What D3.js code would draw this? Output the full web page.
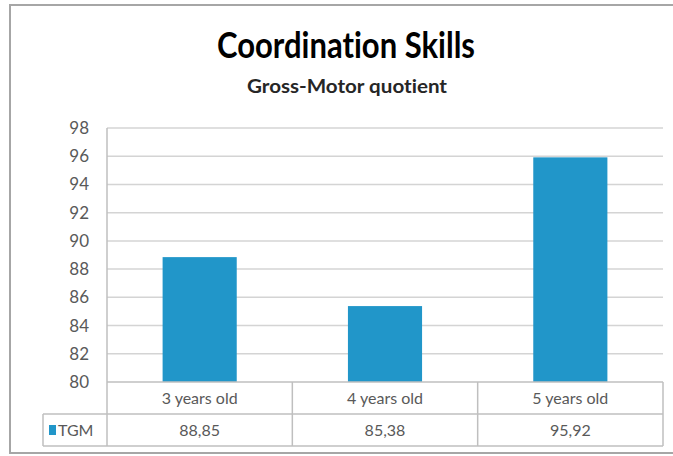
<!DOCTYPE html>
<html>
    <head>
        <meta charset="utf-8">
        <script src="https://d3js.org/d3.v7.min.js"></script>
        <style>
            body { margin:0; background:#fff; }
            text { font-family: Lato, "Open Sans", sans-serif; font-variant-ligatures: none; }
        </style>
    </head>
    <body>
        <script>
            var categories = ["3 years old", "4 years old", "5 years old"];
            var seriesName = "TGM";
            var values = [88.85, 85.38, 95.92];
            var yTicks = [80, 82, 84, 86, 88, 90, 92, 94, 96, 98];

            var width = 673, height = 456;
            var plotLeft = 107, plotRight = 663, plotTop = 128, plotBottom = 382;
            var rowH = 32;

            var svg = d3.select("body").append("svg")
                    .attr("width", width)
                    .attr("height", height);

            // outer frame
            svg.append("rect")
                    .attr("x", 10).attr("y", 5)
                    .attr("width", width + 10).attr("height", 448)
                    .attr("fill", "none")
                    .attr("stroke", "#a6a6a6")
                    .attr("stroke-width", 2);

            svg.append("text")
                    .attr("x", 346).attr("y", 58)
                    .attr("text-anchor", "middle")
                    .attr("textLength", 258)
                    .attr("lengthAdjust", "spacingAndGlyphs")
                    .style("font-size", "36px")
                    .style("font-weight", "bold")
                    .attr("fill", "#000")
                    .text("Coordination Skills");

            svg.append("text")
                    .attr("x", 347).attr("y", 93)
                    .attr("text-anchor", "middle")
                    .attr("textLength", 200)
                    .attr("lengthAdjust", "spacingAndGlyphs")
                    .style("font-size", "19px")
                    .style("font-weight", "bold")
                    .attr("fill", "#262626")
                    .text("Gross-Motor quotient");

            var x = d3.scaleBand()
                    .domain(categories)
                    .range([plotLeft, plotRight]);

            var y = d3.scaleLinear()
                    .domain([80, 98])
                    .range([plotBottom, plotTop]);

            // gridlines
            svg.selectAll("line.grid")
                    .data(yTicks.slice(1))
                    .enter().append("line")
                    .attr("class", "grid")
                    .attr("x1", plotLeft).attr("x2", plotRight)
                    .attr("y1", function (d) { return y(d); })
                    .attr("y2", function (d) { return y(d); })
                    .attr("stroke", "#d4d4d4")
                    .attr("stroke-width", 1.5);

            var yAxis = d3.axisLeft(y).tickValues(yTicks).tickSize(0).tickPadding(0);
            var ga = svg.append("g")
                    .attr("transform", "translate(" + 89 + ",0)")
                    .call(yAxis);
            ga.select(".domain").remove();
            ga.selectAll("text")
                    .style("font-family", "Lato, sans-serif")
                    .style("font-size", "17px")
                    .attr("fill", "#595959");

            // bars
            var bw = x.bandwidth() * 0.4;
            svg.selectAll("rect.bar")
                    .data(values)
                    .enter().append("rect")
                    .attr("class", "bar")
                    .attr("x", function (d, i) { return x(categories[i]) + (x.bandwidth() - bw) / 2; })
                    .attr("y", function (d) { return y(d); })
                    .attr("width", bw)
                    .attr("height", function (d) { return y(80) - y(d); })
                    .attr("fill", "#2196c9");

            // data table
            var tableStroke = "#bfbfbf";
            var t = svg.append("g");
            t.append("line").attr("x1", plotLeft).attr("x2", plotRight)
                    .attr("y1", plotBottom).attr("y2", plotBottom)
                    .attr("stroke", tableStroke).attr("stroke-width", 1.5);
            t.append("line").attr("x1", 43).attr("x2", plotRight)
                    .attr("y1", plotBottom + rowH).attr("y2", plotBottom + rowH)
                    .attr("stroke", tableStroke).attr("stroke-width", 1.5);
            t.append("line").attr("x1", 43).attr("x2", plotRight)
                    .attr("y1", plotBottom + 2 * rowH).attr("y2", plotBottom + 2 * rowH)
                    .attr("stroke", tableStroke).attr("stroke-width", 1.5);
            t.append("line").attr("x1", 43).attr("x2", 43)
                    .attr("y1", plotBottom + rowH).attr("y2", plotBottom + 2 * rowH)
                    .attr("stroke", tableStroke).attr("stroke-width", 1.5);
            t.append("line").attr("x1", plotLeft).attr("x2", plotLeft)
                    .attr("y1", plotTop).attr("y2", plotBottom + 2 * rowH)
                    .attr("stroke", tableStroke).attr("stroke-width", 1.5);
            t.selectAll("line.sep")
                    .data(categories)
                    .enter().append("line")
                    .attr("class", "sep")
                    .attr("x1", function (d) { return x(d) + x.bandwidth(); })
                    .attr("x2", function (d) { return x(d) + x.bandwidth(); })
                    .attr("y1", plotBottom).attr("y2", plotBottom + 2 * rowH)
                    .attr("stroke", tableStroke).attr("stroke-width", 1.5);

            t.selectAll("text.cat")
                    .data(categories)
                    .enter().append("text")
                    .attr("class", "cat")
                    .attr("x", function (d) { return x(d) + x.bandwidth() / 2; })
                    .attr("y", plotBottom + rowH / 2 + 6)
                    .attr("text-anchor", "middle")
                    .style("font-size", "16px")
                    .attr("fill", "#595959")
                    .text(function (d) { return d; });

            var fmt = d3.formatLocale({decimal: ",", thousands: ".", grouping: [3], currency: ["", ""]}).format(".2f");
            t.selectAll("text.val")
                    .data(values)
                    .enter().append("text")
                    .attr("class", "val")
                    .attr("x", function (d, i) { return x(categories[i]) + x.bandwidth() / 2; })
                    .attr("y", plotBottom + rowH * 1.5 + 6)
                    .attr("text-anchor", "middle")
                    .style("font-size", "16px")
                    .attr("fill", "#595959")
                    .text(function (d) { return fmt(d); });

            t.append("rect")
                    .attr("x", 49).attr("y", plotBottom + rowH * 1.5 - 5)
                    .attr("width", 7).attr("height", 10)
                    .attr("fill", "#2196c9");
            t.append("text")
                    .attr("x", 58).attr("y", plotBottom + rowH * 1.5 + 6)
                    .style("font-size", "16px")
                    .attr("fill", "#595959")
                    .text(seriesName);
        </script>
    </body>
</html>
